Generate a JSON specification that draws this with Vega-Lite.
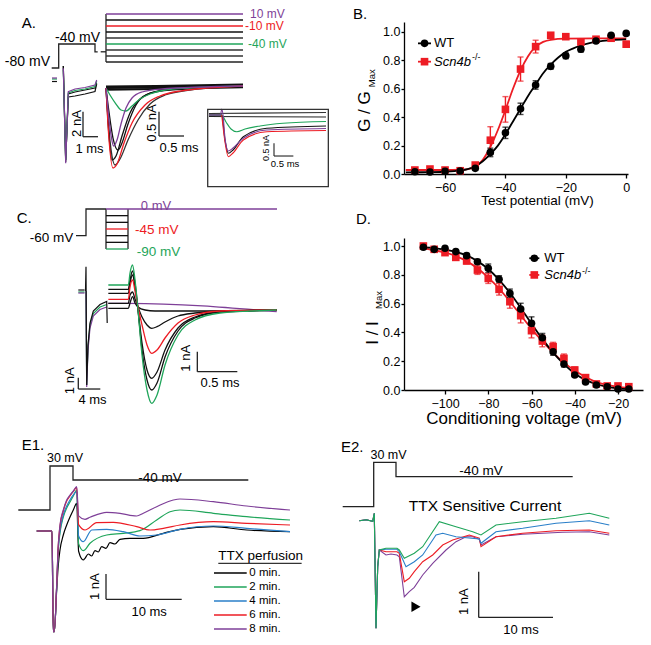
{
  "$schema": "https://vega.github.io/schema/vega-lite/v6.json",
  "padding": 0,
  "background": "white",
  "config": {
    "font": "Liberation Sans",
    "view": {"stroke": null},
    "axis": {"grid": false, "domainColor": "#000", "tickColor": "#000", "labelColor": "#000", "titleColor": "#000", "titleFontWeight": "normal", "labelFontSize": 12.5, "domainWidth": 1.3, "tickWidth": 1.3, "labelFlush": false, "labelOverlap": false},
    "axisY": {"labelOverlap": false},
    "title": {"fontWeight": "normal", "fontSize": 15, "color": "#000", "anchor": "start", "frame": "group"},
    "text": {"color": "#000"}
  },
  "datasets": {
    "aProt": [
      {"seg": "hold", "k": 0, "t": -0.467, "v": -80}, {"seg": "hold", "k": 1, "t": 0, "v": -80}, {"seg": "hold", "k": 2, "t": 0, "v": -40},
      {"seg": "hold", "k": 3, "t": 2.42, "v": -40}, {"seg": "hold", "k": 4, "t": 2.42, "v": -53}, {"seg": "hold", "k": 5, "t": 2.6, "v": -53},
      {"seg": "gap", "k": 0, "t": 2.8, "v": -53}, {"seg": "gap", "k": 1, "t": 3.153, "v": -53},
      {"seg": "bar", "k": 0, "t": 3.153, "v": 10}, {"seg": "bar", "k": 1, "t": 3.153, "v": -70}
    ],
    "aTest": [
      {"step": -70, "t": 3.153, "v": -70}, {"step": -70, "t": 12.287, "v": -70},
      {"step": -60, "t": 3.153, "v": -60}, {"step": -60, "t": 12.287, "v": -60},
      {"step": -50, "t": 3.153, "v": -50}, {"step": -50, "t": 12.287, "v": -50},
      {"step": -30, "t": 3.153, "v": -30}, {"step": -30, "t": 12.287, "v": -30},
      {"step": -20, "t": 3.153, "v": -20}, {"step": -20, "t": 12.287, "v": -20},
      {"step": 0, "t": 3.153, "v": 0}, {"step": 0, "t": 12.287, "v": 0},
      {"step": -40, "t": 3.153, "v": -40}, {"step": -40, "t": 12.287, "v": -40},
      {"step": -10, "t": 3.153, "v": -10}, {"step": -10, "t": 12.287, "v": -10},
      {"step": 10, "t": 3.153, "v": 10}, {"step": 10, "t": 12.287, "v": 10}
    ],
    "aLeft": [
      {"step": 0, "seg": "pre", "t": -0.447, "i": -0.12}, {"step": 0, "seg": "pre", "t": -0.113, "i": -0.12},
      {"step": -40, "seg": "pre", "t": -0.447, "i": 0.08}, {"step": -40, "seg": "pre", "t": -0.113, "i": 0.08},
      {"step": 10, "seg": "pre", "t": -0.447, "i": 0.16}, {"step": 10, "seg": "pre", "t": -0.113, "i": 0.16},
      {"step": -20, "seg": "main", "t": 0.307, "i": 1.12}, {"step": -20, "seg": "main", "t": 0.467, "i": -6.4}, {"step": -20, "seg": "main", "t": 0.64, "i": -1.36}, {"step": -20, "seg": "main", "t": 1.087, "i": -1.28}, {"step": -20, "seg": "main", "t": 1.753, "i": -1.12}, {"step": -20, "seg": "main", "t": 2.42, "i": -0.92}, {"step": -20, "seg": "main", "t": 2.533, "i": -0.32},
      {"step": 0, "seg": "main", "t": 0.307, "i": 1.12}, {"step": 0, "seg": "main", "t": 0.467, "i": -6.56}, {"step": 0, "seg": "main", "t": 0.64, "i": -1.12}, {"step": 0, "seg": "main", "t": 1.087, "i": -0.96}, {"step": 0, "seg": "main", "t": 1.753, "i": -0.8}, {"step": 0, "seg": "main", "t": 2.42, "i": -0.64}, {"step": 0, "seg": "main", "t": 2.533, "i": -0.24},
      {"step": -40, "seg": "main", "t": 0.307, "i": 0.8}, {"step": -40, "seg": "main", "t": 0.467, "i": -6.4}, {"step": -40, "seg": "main", "t": 0.64, "i": -1.04}, {"step": -40, "seg": "main", "t": 1.087, "i": -0.84}, {"step": -40, "seg": "main", "t": 1.753, "i": -0.72}, {"step": -40, "seg": "main", "t": 2.42, "i": -0.52}, {"step": -40, "seg": "main", "t": 2.533, "i": -0.08},
      {"step": 10, "seg": "main", "t": 0.307, "i": 0.936}, {"step": 10, "seg": "main", "t": 0.467, "i": -6.664}, {"step": 10, "seg": "main", "t": 0.64, "i": -0.936}, {"step": 10, "seg": "main", "t": 1.087, "i": -0.72}, {"step": 10, "seg": "main", "t": 1.753, "i": -0.6}, {"step": 10, "seg": "main", "t": 2.42, "i": -0.4}, {"step": 10, "seg": "main", "t": 2.533, "i": 0}
    ],
    "aBase": [
      {"step": -50, "t": 0, "i": 0.03}, {"step": -50, "t": 1, "i": 0.04}, {"step": -50, "t": 2.74, "i": 0.07},
      {"step": -60, "t": 0, "i": 0}, {"step": -60, "t": 1, "i": 0.015}, {"step": -60, "t": 2.74, "i": 0.045},
      {"step": -70, "t": 0, "i": -0.035}, {"step": -70, "t": 1, "i": -0.02}, {"step": -70, "t": 2.74, "i": 0.02}
    ],
    "aRight": [
      {"step": -30, "t": 0, "i": 0}, {"step": -30, "t": 0.04, "i": -0.616}, {"step": -30, "t": 0.12, "i": -1.396}, {"step": -30, "t": 0.18, "i": -1.581}, {"step": -30, "t": 0.28, "i": -1.458}, {"step": -30, "t": 0.44, "i": -1.068}, {"step": -30, "t": 0.64, "i": -0.657}, {"step": -30, "t": 0.88, "i": -0.329}, {"step": -30, "t": 1.18, "i": -0.144}, {"step": -30, "t": 1.68, "i": -0.041}, {"step": -30, "t": 2.74, "i": 0.041},
      {"step": -20, "t": 0, "i": 0}, {"step": -20, "t": 0.04, "i": -0.698}, {"step": -20, "t": 0.12, "i": -1.478}, {"step": -20, "t": 0.2, "i": -1.396}, {"step": -20, "t": 0.32, "i": -0.986}, {"step": -20, "t": 0.48, "i": -0.513}, {"step": -20, "t": 0.68, "i": -0.226}, {"step": -20, "t": 0.98, "i": -0.082}, {"step": -20, "t": 1.58, "i": -0.021}, {"step": -20, "t": 2.74, "i": 0.041},
      {"step": 0, "t": 0, "i": 0}, {"step": 0, "t": 0.06, "i": -0.493}, {"step": 0, "t": 0.14, "i": -1.027}, {"step": 0, "t": 0.24, "i": -1.273}, {"step": 0, "t": 0.32, "i": -1.129}, {"step": 0, "t": 0.44, "i": -0.739}, {"step": 0, "t": 0.6, "i": -0.349}, {"step": 0, "t": 0.8, "i": -0.144}, {"step": 0, "t": 1.18, "i": -0.041}, {"step": 0, "t": 2.74, "i": 0.041},
      {"step": -40, "t": 0, "i": 0}, {"step": -40, "t": 0.08, "i": -0.144}, {"step": -40, "t": 0.2, "i": -0.329}, {"step": -40, "t": 0.3, "i": -0.452}, {"step": -40, "t": 0.4, "i": -0.472}, {"step": -40, "t": 0.52, "i": -0.37}, {"step": -40, "t": 0.68, "i": -0.226}, {"step": -40, "t": 0.88, "i": -0.123}, {"step": -40, "t": 1.18, "i": -0.041}, {"step": -40, "t": 1.68, "i": 0}, {"step": -40, "t": 2.74, "i": 0.041},
      {"step": -10, "t": 0, "i": 0}, {"step": -10, "t": 0.04, "i": -0.76}, {"step": -10, "t": 0.14, "i": -1.643}, {"step": -10, "t": 0.22, "i": -1.561}, {"step": -10, "t": 0.36, "i": -1.129}, {"step": -10, "t": 0.52, "i": -0.719}, {"step": -10, "t": 0.78, "i": -0.349}, {"step": -10, "t": 1.08, "i": -0.164}, {"step": -10, "t": 1.48, "i": -0.062}, {"step": -10, "t": 2.74, "i": 0.041},
      {"step": 10, "t": 0, "i": 0}, {"step": 10, "t": 0.04, "i": -0.452}, {"step": 10, "t": 0.1, "i": -0.965}, {"step": 10, "t": 0.15, "i": -1.191}, {"step": 10, "t": 0.22, "i": -1.068}, {"step": 10, "t": 0.3, "i": -0.739}, {"step": 10, "t": 0.4, "i": -0.411}, {"step": 10, "t": 0.52, "i": -0.205}, {"step": 10, "t": 0.72, "i": -0.082}, {"step": 10, "t": 1.08, "i": -0.021}, {"step": 10, "t": 2.74, "i": 0.041}
    ],
    "aInset": [
      {"step": -60, "t": -0.328, "i": 0.059}, {"step": -60, "t": 2.695, "i": 0.099},
      {"step": -70, "t": -0.328, "i": -0.059}, {"step": -70, "t": 2.695, "i": -0.079},
      {"step": -40, "t": -0.328, "i": 0}, {"step": -40, "t": 0, "i": 0}, {"step": -40, "t": 0.111, "i": -0.277}, {"step": -40, "t": 0.24, "i": -0.553}, {"step": -40, "t": 0.388, "i": -0.66}, {"step": -40, "t": 0.602, "i": -0.553}, {"step": -40, "t": 0.99, "i": -0.435}, {"step": -40, "t": 1.584, "i": -0.328}, {"step": -40, "t": 2.695, "i": -0.257},
      {"step": 0, "t": -0.328, "i": 0}, {"step": 0, "t": 0, "i": 0}, {"step": 0, "t": 0.085, "i": -0.988}, {"step": 0, "t": 0.171, "i": -1.514}, {"step": 0, "t": 0.292, "i": -1.383}, {"step": 0, "t": 0.558, "i": -0.858}, {"step": 0, "t": 1.163, "i": -0.526}, {"step": 0, "t": 2.695, "i": -0.435},
      {"step": -10, "t": 0, "i": 0}, {"step": -10, "t": 0.085, "i": -1.067}, {"step": -10, "t": 0.171, "i": -1.648}, {"step": -10, "t": 0.292, "i": -1.502}, {"step": -10, "t": 0.558, "i": -0.988}, {"step": -10, "t": 1.163, "i": -0.66}, {"step": -10, "t": 2.695, "i": -0.613},
      {"step": 10, "t": -0.328, "i": 0}, {"step": 10, "t": -0.031, "i": 0}, {"step": 10, "t": 0, "i": 0.237}, {"step": 10, "t": 0.034, "i": 0}, {"step": 10, "t": 0.085, "i": -0.909}, {"step": 10, "t": 0.171, "i": -1.423}, {"step": 10, "t": 0.292, "i": -1.304}, {"step": 10, "t": 0.558, "i": -0.921}, {"step": 10, "t": 1.163, "i": -0.593}, {"step": 10, "t": 2.695, "i": -0.534}
    ],
    "bPts": [
      {"geno": "Scn4b-/-", "v": -70, "g": 0.028, "e": 0}, {"geno": "Scn4b-/-", "v": -65, "g": 0.035, "e": 0}, {"geno": "Scn4b-/-", "v": -60, "g": 0.028, "e": 0}, {"geno": "Scn4b-/-", "v": -55, "g": 0.023, "e": 0},
      {"geno": "Scn4b-/-", "v": -50, "g": 0.063, "e": 0.01}, {"geno": "Scn4b-/-", "v": -45, "g": 0.238, "e": 0.095}, {"geno": "Scn4b-/-", "v": -40, "g": 0.455, "e": 0.09}, {"geno": "Scn4b-/-", "v": -35, "g": 0.739, "e": 0.085},
      {"geno": "Scn4b-/-", "v": -30, "g": 0.897, "e": 0.045}, {"geno": "Scn4b-/-", "v": -25, "g": 0.977, "e": 0.01}, {"geno": "Scn4b-/-", "v": -20, "g": 0.967, "e": 0.01}, {"geno": "Scn4b-/-", "v": -15, "g": 0.93, "e": 0.02},
      {"geno": "Scn4b-/-", "v": -10, "g": 0.949, "e": 0.01}, {"geno": "Scn4b-/-", "v": -5, "g": 0.956, "e": 0.01}, {"geno": "Scn4b-/-", "v": 0, "g": 0.914, "e": 0.02},
      {"geno": "WT", "v": -70, "g": 0.016, "e": 0}, {"geno": "WT", "v": -65, "g": 0.014, "e": 0}, {"geno": "WT", "v": -60, "g": 0.019, "e": 0}, {"geno": "WT", "v": -55, "g": 0.021, "e": 0},
      {"geno": "WT", "v": -50, "g": 0.04, "e": 0.01}, {"geno": "WT", "v": -45, "g": 0.152, "e": 0.03}, {"geno": "WT", "v": -40, "g": 0.29, "e": 0.04}, {"geno": "WT", "v": -35, "g": 0.459, "e": 0.04},
      {"geno": "WT", "v": -30, "g": 0.627, "e": 0.03}, {"geno": "WT", "v": -25, "g": 0.758, "e": 0.02}, {"geno": "WT", "v": -20, "g": 0.832, "e": 0.02}, {"geno": "WT", "v": -15, "g": 0.879, "e": 0.02},
      {"geno": "WT", "v": -10, "g": 0.937, "e": 0.01}, {"geno": "WT", "v": -5, "g": 0.977, "e": 0.01}, {"geno": "WT", "v": 0, "g": 0.99, "e": 0.01}
    ],
    "bFit": [
      {"geno": "Scn4b-/-", "v": -73, "g": 0.028}, {"geno": "Scn4b-/-", "v": -60, "g": 0.028}, {"geno": "Scn4b-/-", "v": -55, "g": 0.03}, {"geno": "Scn4b-/-", "v": -52.5, "g": 0.035}, {"geno": "Scn4b-/-", "v": -50, "g": 0.05}, {"geno": "Scn4b-/-", "v": -47.5, "g": 0.1}, {"geno": "Scn4b-/-", "v": -45, "g": 0.19}, {"geno": "Scn4b-/-", "v": -42.5, "g": 0.31}, {"geno": "Scn4b-/-", "v": -40, "g": 0.45}, {"geno": "Scn4b-/-", "v": -37.5, "g": 0.6}, {"geno": "Scn4b-/-", "v": -35, "g": 0.73}, {"geno": "Scn4b-/-", "v": -32.5, "g": 0.83}, {"geno": "Scn4b-/-", "v": -30, "g": 0.895}, {"geno": "Scn4b-/-", "v": -27.5, "g": 0.93}, {"geno": "Scn4b-/-", "v": -25, "g": 0.945}, {"geno": "Scn4b-/-", "v": -20, "g": 0.953}, {"geno": "Scn4b-/-", "v": -10, "g": 0.955}, {"geno": "Scn4b-/-", "v": 0, "g": 0.955},
      {"geno": "WT", "v": -73, "g": 0.012}, {"geno": "WT", "v": -65, "g": 0.013}, {"geno": "WT", "v": -60, "g": 0.016}, {"geno": "WT", "v": -55, "g": 0.025}, {"geno": "WT", "v": -52.5, "g": 0.035}, {"geno": "WT", "v": -50, "g": 0.055}, {"geno": "WT", "v": -47.5, "g": 0.09}, {"geno": "WT", "v": -45, "g": 0.14}, {"geno": "WT", "v": -42.5, "g": 0.2}, {"geno": "WT", "v": -40, "g": 0.28}, {"geno": "WT", "v": -37.5, "g": 0.37}, {"geno": "WT", "v": -35, "g": 0.46}, {"geno": "WT", "v": -32.5, "g": 0.55}, {"geno": "WT", "v": -30, "g": 0.63}, {"geno": "WT", "v": -27.5, "g": 0.71}, {"geno": "WT", "v": -25, "g": 0.77}, {"geno": "WT", "v": -22.5, "g": 0.82}, {"geno": "WT", "v": -20, "g": 0.86}, {"geno": "WT", "v": -17.5, "g": 0.885}, {"geno": "WT", "v": -15, "g": 0.905}, {"geno": "WT", "v": -10, "g": 0.93}, {"geno": "WT", "v": -5, "g": 0.943}, {"geno": "WT", "v": 0, "g": 0.948}
    ],
    "dPts": [
      {"geno": "Scn4b-/-", "v": -110, "g": 1.0, "e": 0.01}, {"geno": "Scn4b-/-", "v": -105, "g": 0.977, "e": 0.01}, {"geno": "Scn4b-/-", "v": -100, "g": 0.954, "e": 0.01}, {"geno": "Scn4b-/-", "v": -95, "g": 0.921, "e": 0.02}, {"geno": "Scn4b-/-", "v": -90, "g": 0.896, "e": 0.02},
      {"geno": "Scn4b-/-", "v": -85, "g": 0.833, "e": 0.03}, {"geno": "Scn4b-/-", "v": -80, "g": 0.775, "e": 0.035}, {"geno": "Scn4b-/-", "v": -75, "g": 0.699, "e": 0.04}, {"geno": "Scn4b-/-", "v": -70, "g": 0.613, "e": 0.045}, {"geno": "Scn4b-/-", "v": -65, "g": 0.516, "e": 0.05},
      {"geno": "Scn4b-/-", "v": -60, "g": 0.412, "e": 0.05}, {"geno": "Scn4b-/-", "v": -55, "g": 0.34, "e": 0.04}, {"geno": "Scn4b-/-", "v": -50, "g": 0.301, "e": 0.03}, {"geno": "Scn4b-/-", "v": -45, "g": 0.22, "e": 0.03}, {"geno": "Scn4b-/-", "v": -40, "g": 0.139, "e": 0.02},
      {"geno": "Scn4b-/-", "v": -35, "g": 0.086, "e": 0.01}, {"geno": "Scn4b-/-", "v": -30, "g": 0.042, "e": 0.01}, {"geno": "Scn4b-/-", "v": -25, "g": 0.028, "e": 0.01}, {"geno": "Scn4b-/-", "v": -20, "g": 0.028, "e": 0.01}, {"geno": "Scn4b-/-", "v": -15, "g": 0.023, "e": 0.01},
      {"geno": "WT", "v": -110, "g": 0.991, "e": 0.01}, {"geno": "WT", "v": -105, "g": 0.977, "e": 0.01}, {"geno": "WT", "v": -100, "g": 0.984, "e": 0.01}, {"geno": "WT", "v": -95, "g": 0.961, "e": 0.01}, {"geno": "WT", "v": -90, "g": 0.933, "e": 0.015},
      {"geno": "WT", "v": -85, "g": 0.891, "e": 0.015}, {"geno": "WT", "v": -80, "g": 0.845, "e": 0.03}, {"geno": "WT", "v": -75, "g": 0.769, "e": 0.025}, {"geno": "WT", "v": -70, "g": 0.671, "e": 0.03}, {"geno": "WT", "v": -65, "g": 0.5625, "e": 0.04},
      {"geno": "WT", "v": -60, "g": 0.463, "e": 0.045}, {"geno": "WT", "v": -55, "g": 0.363, "e": 0.03}, {"geno": "WT", "v": -50, "g": 0.266, "e": 0.025}, {"geno": "WT", "v": -45, "g": 0.18, "e": 0.02}, {"geno": "WT", "v": -40, "g": 0.104, "e": 0.01},
      {"geno": "WT", "v": -35, "g": 0.056, "e": 0.01}, {"geno": "WT", "v": -30, "g": 0.035, "e": 0.01}, {"geno": "WT", "v": -25, "g": 0.023, "e": 0.005}, {"geno": "WT", "v": -20, "g": 0.007, "e": 0.005}, {"geno": "WT", "v": -15, "g": 0.007, "e": 0.005}
    ],
    "dFit": [
      {"geno": "Scn4b-/-", "v": -110, "g": 0.985}, {"geno": "Scn4b-/-", "v": -105, "g": 0.97}, {"geno": "Scn4b-/-", "v": -100, "g": 0.955}, {"geno": "Scn4b-/-", "v": -95, "g": 0.93}, {"geno": "Scn4b-/-", "v": -90, "g": 0.895}, {"geno": "Scn4b-/-", "v": -85, "g": 0.845}, {"geno": "Scn4b-/-", "v": -80, "g": 0.78}, {"geno": "Scn4b-/-", "v": -75, "g": 0.705}, {"geno": "Scn4b-/-", "v": -70, "g": 0.615}, {"geno": "Scn4b-/-", "v": -65, "g": 0.52}, {"geno": "Scn4b-/-", "v": -60, "g": 0.425}, {"geno": "Scn4b-/-", "v": -55, "g": 0.34}, {"geno": "Scn4b-/-", "v": -50, "g": 0.26}, {"geno": "Scn4b-/-", "v": -45, "g": 0.19}, {"geno": "Scn4b-/-", "v": -40, "g": 0.135}, {"geno": "Scn4b-/-", "v": -35, "g": 0.09}, {"geno": "Scn4b-/-", "v": -30, "g": 0.055}, {"geno": "Scn4b-/-", "v": -25, "g": 0.035}, {"geno": "Scn4b-/-", "v": -20, "g": 0.022}, {"geno": "Scn4b-/-", "v": -15, "g": 0.015},
      {"geno": "WT", "v": -110, "g": 0.99}, {"geno": "WT", "v": -105, "g": 0.985}, {"geno": "WT", "v": -100, "g": 0.975}, {"geno": "WT", "v": -95, "g": 0.96}, {"geno": "WT", "v": -90, "g": 0.935}, {"geno": "WT", "v": -85, "g": 0.895}, {"geno": "WT", "v": -80, "g": 0.84}, {"geno": "WT", "v": -75, "g": 0.765}, {"geno": "WT", "v": -70, "g": 0.675}, {"geno": "WT", "v": -65, "g": 0.57}, {"geno": "WT", "v": -60, "g": 0.46}, {"geno": "WT", "v": -55, "g": 0.355}, {"geno": "WT", "v": -50, "g": 0.26}, {"geno": "WT", "v": -45, "g": 0.18}, {"geno": "WT", "v": -40, "g": 0.115}, {"geno": "WT", "v": -35, "g": 0.07}, {"geno": "WT", "v": -30, "g": 0.04}, {"geno": "WT", "v": -25, "g": 0.022}, {"geno": "WT", "v": -20, "g": 0.012}, {"geno": "WT", "v": -15, "g": 0.006}
    ],
    "cProt": [
      {"seg": "hold", "k": 0, "t": -1.818, "v": -60}, {"seg": "hold", "k": 1, "t": 0, "v": -60}, {"seg": "hold", "k": 2, "t": 0, "v": 0}, {"seg": "hold", "k": 3, "t": 3.636, "v": 0},
      {"seg": "boxL", "k": 0, "t": 3.636, "v": 0}, {"seg": "boxL", "k": 1, "t": 3.636, "v": -90},
      {"seg": "boxR", "k": 0, "t": 7.636, "v": 0}, {"seg": "boxR", "k": 1, "t": 7.636, "v": -90}
    ],
    "cCond": [
      {"step": -15, "t": 3.636, "v": -15}, {"step": -15, "t": 7.636, "v": -15},
      {"step": -30, "t": 3.636, "v": -30}, {"step": -30, "t": 7.636, "v": -30},
      {"step": -60, "t": 3.636, "v": -60}, {"step": -60, "t": 7.636, "v": -60},
      {"step": -75, "t": 3.636, "v": -75}, {"step": -75, "t": 7.636, "v": -75},
      {"step": -45, "t": 3.636, "v": -45}, {"step": -45, "t": 7.636, "v": -45},
      {"step": -90, "t": 3.636, "v": -90}, {"step": -90, "t": 7.636, "v": -90},
      {"step": 0, "t": 3.636, "v": 0}, {"step": 0, "t": 34.73, "v": 0}
    ],
    "cLeft": [
      {"step": -30, "seg": "pre", "t": -1.4, "i": 0.15}, {"step": -30, "seg": "pre", "t": -0.273, "i": 0.15},
      {"step": -90, "seg": "pre", "t": -1.4, "i": -0.027}, {"step": -90, "seg": "pre", "t": -0.273, "i": -0.027},
      {"step": 0, "seg": "pre", "t": -1.4, "i": -0.115}, {"step": 0, "seg": "pre", "t": -0.273, "i": -0.115},
      {"step": -90, "seg": "main", "t": 0, "i": 0.062}, {"step": -90, "seg": "main", "t": 0.127, "i": -8.257}, {"step": -90, "seg": "main", "t": 0.364, "i": -4.894}, {"step": -90, "seg": "main", "t": 0.727, "i": -2.947}, {"step": -90, "seg": "main", "t": 1.327, "i": -1.929}, {"step": -90, "seg": "main", "t": 2.545, "i": -1.354}, {"step": -90, "seg": "main", "t": 3.764, "i": -1.133},
      {"step": 0, "seg": "main", "t": 0, "i": 0.062}, {"step": 0, "seg": "main", "t": 0.127, "i": -8.434}, {"step": 0, "seg": "main", "t": 0.364, "i": -5.159}, {"step": 0, "seg": "main", "t": 0.727, "i": -3.212}, {"step": 0, "seg": "main", "t": 1.327, "i": -2.15}, {"step": 0, "seg": "main", "t": 2.545, "i": -1.575}, {"step": 0, "seg": "main", "t": 3.764, "i": -1.354},
      {"step": -30, "seg": "main", "t": -0.091, "i": 0.062}, {"step": -30, "seg": "main", "t": 0, "i": 2.212}, {"step": -30, "seg": "main", "t": 0.127, "i": -8.257}, {"step": -30, "seg": "main", "t": 0.364, "i": -4.717}, {"step": -30, "seg": "main", "t": 0.727, "i": -2.77}, {"step": -30, "seg": "main", "t": 1.327, "i": -1.708}, {"step": -30, "seg": "main", "t": 2.545, "i": -1.133}, {"step": -30, "seg": "main", "t": 3.764, "i": -0.867}, {"step": -30, "seg": "main", "t": 3.855, "i": -2.77}
    ],
    "cRight": [
      {"step": 0, "t": -0.25, "i": 0.335}, {"step": 0, "t": 0, "i": 0.335}, {"step": 0, "t": 1.855, "i": -0.085},
      {"step": -15, "t": -0.25, "i": 0.085}, {"step": -15, "t": 0, "i": 0.085}, {"step": -15, "t": 0.02125, "i": 0.35}, {"step": -15, "t": 0.0525, "i": 0.665}, {"step": -15, "t": 0.08375, "i": 0.35}, {"step": -15, "t": 0.12125, "i": 0.15}, {"step": -15, "t": 0.20875, "i": 0}, {"step": -15, "t": 0.33375, "i": -0.05}, {"step": -15, "t": 0.64625, "i": -0.05}, {"step": -15, "t": 1.855, "i": 0},
      {"step": -30, "t": -0.25, "i": 0.335}, {"step": -30, "t": 0, "i": 0.335}, {"step": -30, "t": 0.02125, "i": 0.75}, {"step": -30, "t": 0.0525, "i": 0.9}, {"step": -30, "t": 0.08375, "i": 0.55}, {"step": -30, "t": 0.12125, "i": 0.15}, {"step": -30, "t": 0.17125, "i": -0.35}, {"step": -30, "t": 0.23375, "i": -0.75}, {"step": -30, "t": 0.2925, "i": -0.915}, {"step": -30, "t": 0.35875, "i": -0.835}, {"step": -30, "t": 0.45875, "i": -0.6}, {"step": -30, "t": 0.62125, "i": -0.3}, {"step": -30, "t": 0.83375, "i": -0.15}, {"step": -30, "t": 1.14625, "i": -0.05}, {"step": -30, "t": 1.855, "i": 0},
      {"step": -60, "t": -0.25, "i": 0.835}, {"step": -60, "t": 0, "i": 0.835}, {"step": -60, "t": 0.02125, "i": 1.35}, {"step": -60, "t": 0.0525, "i": 1.75}, {"step": -60, "t": 0.08375, "i": 1.15}, {"step": -60, "t": 0.12125, "i": 0}, {"step": -60, "t": 0.17125, "i": -1.65}, {"step": -60, "t": 0.23375, "i": -3.0}, {"step": -60, "t": 0.2925, "i": -3.415}, {"step": -60, "t": 0.35875, "i": -3.1}, {"step": -60, "t": 0.45875, "i": -2.0}, {"step": -60, "t": 0.62125, "i": -0.9}, {"step": -60, "t": 0.83375, "i": -0.35}, {"step": -60, "t": 1.14625, "i": -0.1}, {"step": -60, "t": 1.855, "i": 0},
      {"step": -75, "t": -0.25, "i": 1.035}, {"step": -75, "t": 0, "i": 1.035}, {"step": -75, "t": 0.02125, "i": 1.5}, {"step": -75, "t": 0.0525, "i": 1.95}, {"step": -75, "t": 0.08375, "i": 1.35}, {"step": -75, "t": 0.12125, "i": 0}, {"step": -75, "t": 0.17125, "i": -2.0}, {"step": -75, "t": 0.23375, "i": -3.5}, {"step": -75, "t": 0.2925, "i": -4.0}, {"step": -75, "t": 0.35875, "i": -3.65}, {"step": -75, "t": 0.45875, "i": -2.35}, {"step": -75, "t": 0.62125, "i": -1.05}, {"step": -75, "t": 0.83375, "i": -0.4}, {"step": -75, "t": 1.14625, "i": -0.1}, {"step": -75, "t": 1.52125, "i": -0.05}, {"step": -75, "t": 1.855, "i": 0},
      {"step": -45, "t": -0.25, "i": 0.535}, {"step": -45, "t": 0, "i": 0.535}, {"step": -45, "t": 0.02125, "i": 1.15}, {"step": -45, "t": 0.0525, "i": 1.5}, {"step": -45, "t": 0.08375, "i": 0.95}, {"step": -45, "t": 0.12125, "i": 0.15}, {"step": -45, "t": 0.17125, "i": -0.75}, {"step": -45, "t": 0.23375, "i": -1.75}, {"step": -45, "t": 0.2925, "i": -2.165}, {"step": -45, "t": 0.35875, "i": -2.0}, {"step": -45, "t": 0.45875, "i": -1.4}, {"step": -45, "t": 0.62125, "i": -0.65}, {"step": -45, "t": 0.83375, "i": -0.25}, {"step": -45, "t": 1.14625, "i": -0.05}, {"step": -45, "t": 1.855, "i": 0},
      {"step": -90, "t": -0.25, "i": 1.25}, {"step": -90, "t": 0, "i": 1.25}, {"step": -90, "t": 0.02125, "i": 1.85}, {"step": -90, "t": 0.0525, "i": 2.25}, {"step": -90, "t": 0.08375, "i": 1.5}, {"step": -90, "t": 0.12125, "i": 0}, {"step": -90, "t": 0.17125, "i": -2.25}, {"step": -90, "t": 0.23375, "i": -4.0}, {"step": -90, "t": 0.2925, "i": -4.665}, {"step": -90, "t": 0.35875, "i": -4.25}, {"step": -90, "t": 0.45875, "i": -2.75}, {"step": -90, "t": 0.62125, "i": -1.25}, {"step": -90, "t": 0.83375, "i": -0.5}, {"step": -90, "t": 1.14625, "i": -0.15}, {"step": -90, "t": 1.52125, "i": -0.05}, {"step": -90, "t": 1.855, "i": 0}
    ],
    "e1Prot": [
      {"k": 0, "t": -4.188, "v": -80}, {"k": 1, "t": 0, "v": -80}, {"k": 2, "t": 0, "v": 30}, {"k": 3, "t": 3.038, "v": 30}, {"k": 4, "t": 3.038, "v": -40}, {"k": 5, "t": 26.196, "v": -40}
    ],
    "e2Prot": [
      {"k": 0, "t": -4.172, "v": -80}, {"k": 1, "t": 0, "v": -80}, {"k": 2, "t": 0, "v": 30}, {"k": 3, "t": 3.001, "v": 30}, {"k": 4, "t": 3.001, "v": -40}, {"k": 5, "t": 26.783, "v": -40}
    ],
    "e1": [
      {"m": "0 min.", "t": -1.757, "i": 0}, {"m": "0 min.", "t": 0.264, "i": 0}, {"m": "0 min.", "t": 0.436, "i": -3.98}, {"m": "0 min.", "t": 0.568, "i": -3.98}, {"m": "0 min.", "t": 0.885, "i": -2.332}, {"m": "0 min.", "t": 1.096, "i": -1.344}, {"m": "0 min.", "t": 1.321, "i": -0.751}, {"m": "0 min.", "t": 1.757, "i": -0.158}, {"m": "0 min.", "t": 2.206, "i": 0.237}, {"m": "0 min.", "t": 2.642, "i": 0.553}, {"m": "0 min.", "t": 3.078, "i": 0.83}, {"m": "0 min.", "t": 3.527, "i": 1.095}, {"m": "0 min.", "t": 3.78, "i": -0.8}, {"m": "0 min.", "t": 4.399, "i": -1.146}, {"m": "0 min.", "t": 4.624, "i": -1.079}, {"m": "0 min.", "t": 5.059, "i": -0.909}, {"m": "0 min.", "t": 5.509, "i": -0.988}, {"m": "0 min.", "t": 5.945, "i": -0.779}, {"m": "0 min.", "t": 6.38, "i": -0.83}, {"m": "0 min.", "t": 6.83, "i": -0.621}, {"m": "0 min.", "t": 7.398, "i": -0.684}, {"m": "0 min.", "t": 7.926, "i": -0.462}, {"m": "0 min.", "t": 8.587, "i": -0.514}, {"m": "0 min.", "t": 9.247, "i": -0.328}, {"m": "0 min.", "t": 10.568, "i": -0.289}, {"m": "0 min.", "t": 12.325, "i": -0.289}, {"m": "0 min.", "t": 14.967, "i": -0.091}, {"m": "0 min.", "t": 17.173, "i": 0.067}, {"m": "0 min.", "t": 21.572, "i": 0.17}, {"m": "0 min.", "t": 25.984, "i": 0.04}, {"m": "0 min.", "t": 31.704, "i": -0.028},
      {"m": "2 min.", "t": -1.757, "i": 0}, {"m": "2 min.", "t": 0.264, "i": 0}, {"m": "2 min.", "t": 0.436, "i": -3.98}, {"m": "2 min.", "t": 0.568, "i": -3.98}, {"m": "2 min.", "t": 0.885, "i": -2.2}, {"m": "2 min.", "t": 1.096, "i": -0.751}, {"m": "2 min.", "t": 1.321, "i": -0.079}, {"m": "2 min.", "t": 1.757, "i": 0.553}, {"m": "2 min.", "t": 2.206, "i": 0.909}, {"m": "2 min.", "t": 2.642, "i": 1.146}, {"m": "2 min.", "t": 3.078, "i": 1.383}, {"m": "2 min.", "t": 3.527, "i": 1.621}, {"m": "2 min.", "t": 3.78, "i": -0.5}, {"m": "2 min.", "t": 4.399, "i": -0.779}, {"m": "2 min.", "t": 5.284, "i": -0.486}, {"m": "2 min.", "t": 7.49, "i": -0.158}, {"m": "2 min.", "t": 9.683, "i": -0.091}, {"m": "2 min.", "t": 11.889, "i": 0.012}, {"m": "2 min.", "t": 14.095, "i": 0.435}, {"m": "2 min.", "t": 15.852, "i": 0.763}, {"m": "2 min.", "t": 17.173, "i": 0.83}, {"m": "2 min.", "t": 21.572, "i": 0.7}, {"m": "2 min.", "t": 25.984, "i": 0.565}, {"m": "2 min.", "t": 31.704, "i": 0.435},
      {"m": "4 min.", "t": -1.757, "i": 0}, {"m": "4 min.", "t": 0.264, "i": 0}, {"m": "4 min.", "t": 0.436, "i": -3.98}, {"m": "4 min.", "t": 0.568, "i": -3.98}, {"m": "4 min.", "t": 0.885, "i": -2.2}, {"m": "4 min.", "t": 1.096, "i": -0.672}, {"m": "4 min.", "t": 1.321, "i": 0}, {"m": "4 min.", "t": 1.757, "i": 0.632}, {"m": "4 min.", "t": 2.206, "i": 0.988}, {"m": "4 min.", "t": 2.642, "i": 1.225}, {"m": "4 min.", "t": 3.078, "i": 1.423}, {"m": "4 min.", "t": 3.527, "i": 1.553}, {"m": "4 min.", "t": 3.78, "i": -0.2}, {"m": "4 min.", "t": 4.399, "i": -0.423}, {"m": "4 min.", "t": 5.509, "i": 0.04}, {"m": "4 min.", "t": 7.49, "i": 0.067}, {"m": "4 min.", "t": 9.683, "i": -0.028}, {"m": "4 min.", "t": 11.889, "i": -0.198}, {"m": "4 min.", "t": 14.095, "i": -0.158}, {"m": "4 min.", "t": 17.173, "i": 0.067}, {"m": "4 min.", "t": 21.572, "i": 0.198}, {"m": "4 min.", "t": 25.984, "i": 0.107}, {"m": "4 min.", "t": 31.704, "i": -0.028},
      {"m": "6 min.", "t": -1.757, "i": 0}, {"m": "6 min.", "t": 0.264, "i": 0}, {"m": "6 min.", "t": 0.436, "i": -3.98}, {"m": "6 min.", "t": 0.568, "i": -3.98}, {"m": "6 min.", "t": 0.885, "i": -2.134}, {"m": "6 min.", "t": 1.096, "i": -0.553}, {"m": "6 min.", "t": 1.321, "i": 0.198}, {"m": "6 min.", "t": 1.757, "i": 0.791}, {"m": "6 min.", "t": 2.206, "i": 1.186}, {"m": "6 min.", "t": 2.642, "i": 1.383}, {"m": "6 min.", "t": 3.078, "i": 1.561}, {"m": "6 min.", "t": 3.527, "i": 1.727}, {"m": "6 min.", "t": 3.78, "i": 0.25}, {"m": "6 min.", "t": 4.624, "i": 0.04}, {"m": "6 min.", "t": 6.169, "i": 0.328}, {"m": "6 min.", "t": 8.362, "i": 0.344}, {"m": "6 min.", "t": 11.453, "i": 0.17}, {"m": "6 min.", "t": 13.21, "i": 0.04}, {"m": "6 min.", "t": 14.967, "i": 0.107}, {"m": "6 min.", "t": 17.173, "i": 0.237}, {"m": "6 min.", "t": 21.572, "i": 0.368}, {"m": "6 min.", "t": 25.984, "i": 0.304}, {"m": "6 min.", "t": 31.704, "i": 0.237},
      {"m": "8 min.", "t": -1.757, "i": 0}, {"m": "8 min.", "t": 0.264, "i": 0}, {"m": "8 min.", "t": 0.436, "i": -3.98}, {"m": "8 min.", "t": 0.568, "i": -3.98}, {"m": "8 min.", "t": 0.885, "i": -2.134}, {"m": "8 min.", "t": 1.096, "i": -0.553}, {"m": "8 min.", "t": 1.321, "i": 0.237}, {"m": "8 min.", "t": 1.757, "i": 0.83}, {"m": "8 min.", "t": 2.206, "i": 1.225}, {"m": "8 min.", "t": 2.642, "i": 1.423}, {"m": "8 min.", "t": 3.078, "i": 1.581}, {"m": "8 min.", "t": 3.527, "i": 1.751}, {"m": "8 min.", "t": 3.78, "i": 0.6}, {"m": "8 min.", "t": 4.624, "i": 0.462}, {"m": "8 min.", "t": 5.284, "i": 0.542}, {"m": "8 min.", "t": 7.49, "i": 0.739}, {"m": "8 min.", "t": 9.247, "i": 0.7}, {"m": "8 min.", "t": 11.453, "i": 0.593}, {"m": "8 min.", "t": 12.325, "i": 0.7}, {"m": "8 min.", "t": 14.095, "i": 0.96}, {"m": "8 min.", "t": 16.288, "i": 1.225}, {"m": "8 min.", "t": 17.173, "i": 1.265}, {"m": "8 min.", "t": 21.572, "i": 1.158}, {"m": "8 min.", "t": 25.984, "i": 0.988}, {"m": "8 min.", "t": 31.704, "i": 0.83}
    ],
    "e2": [
      {"m": "8 min.", "t": -1.938, "i": 0}, {"m": "8 min.", "t": -1.0, "i": 0.02}, {"m": "8 min.", "t": -0.135, "i": -0.015}, {"m": "8 min.", "t": 0.081, "i": 0.162}, {"m": "8 min.", "t": 0.31, "i": -2.3545}, {"m": "8 min.", "t": 0.538, "i": -1.0066}, {"m": "8 min.", "t": 0.754, "i": -0.6411},
      {"m": "8 min.", "t": 1.655, "i": -0.7505}, {"m": "8 min.", "t": 2.328, "i": -0.73}, {"m": "8 min.", "t": 3.136, "i": -0.7505}, {"m": "8 min.", "t": 3.445, "i": -0.7877}, {"m": "8 min.", "t": 4.118, "i": -1.663}, {"m": "8 min.", "t": 4.791, "i": -1.5536}, {"m": "8 min.", "t": 5.464, "i": -1.4573}, {"m": "8 min.", "t": 6.595, "i": -1.1882}, {"m": "8 min.", "t": 7.941, "i": -0.9322}, {"m": "8 min.", "t": 9.731, "i": -0.6411}, {"m": "8 min.", "t": 11.077, "i": -0.4595}, {"m": "8 min.", "t": 12.423, "i": -0.3501}, {"m": "8 min.", "t": 13.324, "i": -0.3501}, {"m": "8 min.", "t": 14.213, "i": -0.407}, {"m": "8 min.", "t": 14.441, "i": -0.5317}, {"m": "8 min.", "t": 16.46, "i": -0.3501}, {"m": "8 min.", "t": 20.054, "i": -0.2976}, {"m": "8 min.", "t": 22.746, "i": -0.2757}, {"m": "8 min.", "t": 25.437, "i": -0.2538}, {"m": "8 min.", "t": 29.018, "i": -0.2407}, {"m": "8 min.", "t": 31.709, "i": -0.3129},
      {"m": "6 min.", "t": -1.938, "i": 0}, {"m": "6 min.", "t": -1.0, "i": 0.02}, {"m": "6 min.", "t": -0.135, "i": -0.015}, {"m": "6 min.", "t": 0.081, "i": 0.162}, {"m": "6 min.", "t": 0.31, "i": -2.3545}, {"m": "6 min.", "t": 0.538, "i": -1.0066}, {"m": "6 min.", "t": 0.754, "i": -0.6411},
      {"m": "6 min.", "t": 1.655, "i": -0.6783}, {"m": "6 min.", "t": 3.136, "i": -0.6783}, {"m": "6 min.", "t": 3.445, "i": -0.7133}, {"m": "6 min.", "t": 4.118, "i": -1.3348}, {"m": "6 min.", "t": 4.791, "i": -1.2604}, {"m": "6 min.", "t": 5.464, "i": -1.116}, {"m": "6 min.", "t": 6.595, "i": -0.8972}, {"m": "6 min.", "t": 7.941, "i": -0.7505}, {"m": "6 min.", "t": 9.287, "i": -0.5317}, {"m": "6 min.", "t": 10.633, "i": -0.4223}, {"m": "6 min.", "t": 12.867, "i": -0.3129}, {"m": "6 min.", "t": 14.213, "i": -0.38}, {"m": "6 min.", "t": 14.441, "i": -0.5689}, {"m": "6 min.", "t": 16.46, "i": -0.3501}, {"m": "6 min.", "t": 20.054, "i": -0.2757}, {"m": "6 min.", "t": 24.536, "i": -0.2188}, {"m": "6 min.", "t": 29.018, "i": -0.2035}, {"m": "6 min.", "t": 31.709, "i": -0.2757},
      {"m": "4 min.", "t": -1.938, "i": 0}, {"m": "4 min.", "t": -1.0, "i": 0.02}, {"m": "4 min.", "t": -0.135, "i": -0.015}, {"m": "4 min.", "t": 0.081, "i": 0.162}, {"m": "4 min.", "t": 0.31, "i": -2.3545}, {"m": "4 min.", "t": 0.538, "i": -1.0066}, {"m": "4 min.", "t": 0.754, "i": -0.6411},
      {"m": "4 min.", "t": 1.655, "i": -0.6258}, {"m": "4 min.", "t": 3.136, "i": -0.6258}, {"m": "4 min.", "t": 3.445, "i": -0.6783}, {"m": "4 min.", "t": 4.347, "i": -1.0066}, {"m": "4 min.", "t": 5.464, "i": -0.8972}, {"m": "4 min.", "t": 6.595, "i": -0.7505}, {"m": "4 min.", "t": 8.385, "i": -0.3129}, {"m": "4 min.", "t": 9.287, "i": -0.2757}, {"m": "4 min.", "t": 11.077, "i": -0.3501}, {"m": "4 min.", "t": 14.213, "i": -0.4}, {"m": "4 min.", "t": 14.441, "i": -0.4945}, {"m": "4 min.", "t": 16.46, "i": -0.2407}, {"m": "4 min.", "t": 20.054, "i": -0.1663}, {"m": "4 min.", "t": 24.536, "i": -0.0569}, {"m": "4 min.", "t": 29.018, "i": 0}, {"m": "4 min.", "t": 31.709, "i": -0.0941},
      {"m": "2 min.", "t": -1.938, "i": 0}, {"m": "2 min.", "t": -1.0, "i": 0.02}, {"m": "2 min.", "t": -0.135, "i": -0.015}, {"m": "2 min.", "t": 0.081, "i": 0.162}, {"m": "2 min.", "t": 0.31, "i": -2.3545}, {"m": "2 min.", "t": 0.538, "i": -1.0066}, {"m": "2 min.", "t": 0.754, "i": -0.6411},
      {"m": "2 min.", "t": 1.655, "i": -0.6039}, {"m": "2 min.", "t": 3.136, "i": -0.6039}, {"m": "2 min.", "t": 3.445, "i": -0.6411}, {"m": "2 min.", "t": 4.118, "i": -0.8228}, {"m": "2 min.", "t": 5.464, "i": -0.7133}, {"m": "2 min.", "t": 6.595, "i": -0.5689}, {"m": "2 min.", "t": 8.829, "i": -0.0219}, {"m": "2 min.", "t": 11.077, "i": -0.1313}, {"m": "2 min.", "t": 13.324, "i": -0.2407}, {"m": "2 min.", "t": 14.441, "i": -0.3129}, {"m": "2 min.", "t": 16.46, "i": -0.0941}, {"m": "2 min.", "t": 20.054, "i": -0.0219}, {"m": "2 min.", "t": 24.536, "i": 0.0525}, {"m": "2 min.", "t": 29.018, "i": 0.162}, {"m": "2 min.", "t": 31.709, "i": 0.0525}
    ]
  },
  "spacing": 10,
  "resolve": {"scale": {"color": "independent", "shape": "independent"}},
  "hconcat": [
    {
      "spacing": 0,
      "bounds": "flush",
      "resolve": {"scale": {"color": "independent", "shape": "independent"}},
      "vconcat": [
        {
          "width": 330, "height": 195,
          "resolve": {"scale": {"x": "independent", "y": "independent"}},
          "layer": [
            {
              "layer": [
                {"data": {"name": "aProt"}, "mark": {"type": "line", "color": "#222222", "strokeWidth": 1.3}, "encoding": {"x": {"field": "t", "type": "quantitative", "scale": {"domain": [-3.913, 18.087], "nice": false, "zero": false}, "axis": null}, "y": {"field": "v", "type": "quantitative", "scale": {"domain": [-291.67, 33.33], "nice": false, "zero": false}, "axis": null}, "detail": {"field": "seg"}, "order": {"field": "k"}}},
                {"data": {"name": "aTest"}, "mark": {"type": "line", "strokeWidth": 1.3}, "encoding": {"x": {"field": "t", "type": "quantitative", "scale": {"domain": [-3.913, 18.087], "nice": false, "zero": false}, "axis": null}, "y": {"field": "v", "type": "quantitative", "scale": {"domain": [-291.67, 33.33], "nice": false, "zero": false}, "axis": null}, "color": {"field": "step", "type": "nominal", "scale": {"domain": [10, 0, -10, -20, -30, -40, -50, -60, -70], "range": ["#7E3F98", "#111111", "#ED1C24", "#111111", "#333333", "#1FA55A", "#333333", "#333333", "#222222"]}, "legend": null}}},
                {"data": {"values": [{}]}, "mark": {"type": "text", "text": "A.", "align": "left", "baseline": "middle", "fontSize": 15}, "encoding": {"x": {"datum": -2.467, "type": "quantitative", "axis": null}, "y": {"datum": -4.2, "type": "quantitative", "axis": null}}},
                {"data": {"values": [{}]}, "mark": {"type": "text", "text": "-80 mV", "align": "right", "baseline": "middle", "fontSize": 14}, "encoding": {"x": {"datum": -0.58, "type": "quantitative", "axis": null}, "y": {"datum": -70, "type": "quantitative", "axis": null}}},
                {"data": {"values": [{}]}, "mark": {"type": "text", "text": "-40 mV", "align": "left", "baseline": "middle", "fontSize": 14}, "encoding": {"x": {"datum": -0.247, "type": "quantitative", "axis": null}, "y": {"datum": -29.2, "type": "quantitative", "axis": null}}},
                {"data": {"values": [{}]}, "mark": {"type": "text", "text": "10 mV", "align": "left", "baseline": "middle", "fontSize": 12, "color": "#7E3F98"}, "encoding": {"x": {"datum": 12.753, "type": "quantitative", "axis": null}, "y": {"datum": 10.83, "type": "quantitative", "axis": null}}},
                {"data": {"values": [{}]}, "mark": {"type": "text", "text": "-10 mV", "align": "left", "baseline": "middle", "fontSize": 12, "color": "#ED1C24"}, "encoding": {"x": {"datum": 12.42, "type": "quantitative", "axis": null}, "y": {"datum": -10, "type": "quantitative", "axis": null}}},
                {"data": {"values": [{}]}, "mark": {"type": "text", "text": "-40 mV", "align": "left", "baseline": "middle", "fontSize": 12, "color": "#1FA55A"}, "encoding": {"x": {"datum": 12.62, "type": "quantitative", "axis": null}, "y": {"datum": -40.3, "type": "quantitative", "axis": null}}}
              ]
            },
            {
              "layer": [
                {"data": {"name": "aLeft"}, "mark": {"type": "line", "strokeWidth": 1.2}, "encoding": {"x": {"field": "t", "type": "quantitative", "scale": {"domain": [-3.913, 18.087], "nice": false, "zero": false}, "axis": null}, "y": {"field": "i", "type": "quantitative", "scale": {"domain": [-9.2, 6.4], "nice": false, "zero": false}, "axis": null}, "detail": {"field": "seg"}, "color": {"field": "step", "type": "nominal", "scale": {"domain": [10, 0, -10, -20, -30, -40, -50, -60, -70], "range": ["#7E3F98", "#111111", "#ED1C24", "#111111", "#333333", "#1FA55A", "#333333", "#333333", "#222222"]}, "legend": null}}},
                {"data": {"values": [{}]}, "mark": {"type": "rule", "color": "#222222", "strokeWidth": 1.3}, "encoding": {"x": {"datum": 1.62, "type": "quantitative", "axis": null}, "y": {"datum": -2.536, "type": "quantitative", "axis": null}, "y2": {"datum": -4.536}}},
                {"data": {"values": [{}]}, "mark": {"type": "rule", "color": "#222222", "strokeWidth": 1.3}, "encoding": {"x": {"datum": 1.62, "type": "quantitative", "axis": null}, "x2": {"datum": 2.62}, "y": {"datum": -4.536, "type": "quantitative", "axis": null}}},
                {"data": {"values": [{}]}, "mark": {"type": "text", "text": "2 nA", "angle": 270, "align": "center", "baseline": "middle", "fontSize": 13}, "encoding": {"x": {"datum": 1.187, "type": "quantitative", "axis": null}, "y": {"datum": -3.48, "type": "quantitative", "axis": null}}},
                {"data": {"values": [{}]}, "mark": {"type": "text", "text": "1 ms", "align": "center", "baseline": "middle", "fontSize": 13}, "encoding": {"x": {"datum": 2.053, "type": "quantitative", "axis": null}, "y": {"datum": -5.48, "type": "quantitative", "axis": null}}}
              ]
            },
            {
              "layer": [
                {"data": {"name": "aBase"}, "mark": {"type": "line", "strokeWidth": 2.2, "color": "#111111"}, "encoding": {"x": {"field": "t", "type": "quantitative", "scale": {"domain": [-2.12, 4.48], "nice": false, "zero": false}, "axis": null}, "y": {"field": "i", "type": "quantitative", "scale": {"domain": [-2.197, 1.807], "nice": false, "zero": false}, "axis": null}, "detail": {"field": "step"}}},
                {"data": {"name": "aRight"}, "mark": {"type": "line", "strokeWidth": 1.3, "interpolate": "monotone"}, "encoding": {"x": {"field": "t", "type": "quantitative", "scale": {"domain": [-2.12, 4.48], "nice": false, "zero": false}, "axis": null}, "y": {"field": "i", "type": "quantitative", "scale": {"domain": [-2.197, 1.807], "nice": false, "zero": false}, "axis": null}, "color": {"field": "step", "type": "nominal", "scale": {"domain": [10, 0, -10, -20, -30, -40, -50, -60, -70], "range": ["#7E3F98", "#111111", "#ED1C24", "#111111", "#333333", "#1FA55A", "#333333", "#333333", "#222222"]}, "legend": null}}},
                {"data": {"values": [{}]}, "mark": {"type": "rule", "color": "#222222", "strokeWidth": 1.3}, "encoding": {"x": {"datum": 1.06, "type": "quantitative", "axis": null}, "y": {"datum": -0.4856, "type": "quantitative", "axis": null}, "y2": {"datum": -0.9856}}},
                {"data": {"values": [{}]}, "mark": {"type": "rule", "color": "#222222", "strokeWidth": 1.3}, "encoding": {"x": {"datum": 1.06, "type": "quantitative", "axis": null}, "x2": {"datum": 1.56}, "y": {"datum": -0.9856, "type": "quantitative", "axis": null}}},
                {"data": {"values": [{}]}, "mark": {"type": "text", "text": "0.5 nA", "angle": 270, "align": "center", "baseline": "middle", "fontSize": 13}, "encoding": {"x": {"datum": 0.914, "type": "quantitative", "axis": null}, "y": {"datum": -0.719, "type": "quantitative", "axis": null}}},
                {"data": {"values": [{}]}, "mark": {"type": "text", "text": "0.5 ms", "align": "center", "baseline": "middle", "fontSize": 13}, "encoding": {"x": {"datum": 1.46, "type": "quantitative", "axis": null}, "y": {"datum": -1.242, "type": "quantitative", "axis": null}}}
              ]
            },
            {
              "layer": [
                {"data": {"name": "aInset"}, "mark": {"type": "line", "strokeWidth": 1.1, "interpolate": "monotone"}, "encoding": {"x": {"field": "t", "type": "quantitative", "scale": {"domain": [-5.729, 2.798], "nice": false, "zero": false}, "axis": null}, "y": {"field": "i", "type": "quantitative", "scale": {"domain": [-3.162, 4.545], "nice": false, "zero": false}, "axis": null}, "color": {"field": "step", "type": "nominal", "scale": {"domain": [10, 0, -10, -20, -30, -40, -50, -60, -70], "range": ["#7E3F98", "#111111", "#ED1C24", "#111111", "#333333", "#1FA55A", "#333333", "#333333", "#222222"]}, "legend": null}}},
                {"data": {"values": [{}]}, "mark": {"type": "rect", "fillOpacity": 0, "stroke": "#333333", "strokeWidth": 1.3}, "encoding": {"x": {"datum": -0.362, "type": "quantitative", "axis": null}, "x2": {"datum": 2.755}, "y": {"datum": 0.225, "type": "quantitative", "axis": null}, "y2": {"datum": -2.834}}},
                {"data": {"values": [{}]}, "mark": {"type": "rule", "color": "#222222", "strokeWidth": 1.1}, "encoding": {"x": {"datum": 1.351, "type": "quantitative", "axis": null}, "y": {"datum": -1.121, "type": "quantitative", "axis": null}, "y2": {"datum": -1.621}}},
                {"data": {"values": [{}]}, "mark": {"type": "rule", "color": "#222222", "strokeWidth": 1.1}, "encoding": {"x": {"datum": 1.351, "type": "quantitative", "axis": null}, "x2": {"datum": 1.851}, "y": {"datum": -1.621, "type": "quantitative", "axis": null}}},
                {"data": {"values": [{}]}, "mark": {"type": "text", "text": "0.5 nA", "angle": 270, "align": "center", "baseline": "middle", "fontSize": 9}, "encoding": {"x": {"datum": 1.145, "type": "quantitative", "axis": null}, "y": {"datum": -1.304, "type": "quantitative", "axis": null}}},
                {"data": {"values": [{}]}, "mark": {"type": "text", "text": "0.5 ms", "align": "center", "baseline": "middle", "fontSize": 9.5}, "encoding": {"x": {"datum": 1.636, "type": "quantitative", "axis": null}, "y": {"datum": -1.937, "type": "quantitative", "axis": null}}}
              ]
            }
          ]
        },
        {
          "width": 330, "height": 260,
          "resolve": {"scale": {"x": "independent", "y": "independent"}},
          "layer": [
            {
              "layer": [
                {"data": {"name": "cProt"}, "mark": {"type": "line", "color": "#222222", "strokeWidth": 1.3}, "encoding": {"x": {"field": "t", "type": "quantitative", "scale": {"domain": [-15.636, 44.364], "nice": false, "zero": false}, "axis": null}, "y": {"field": "v", "type": "quantitative", "scale": {"domain": [-553.5, 31.5], "nice": false, "zero": false}, "axis": null}, "detail": {"field": "seg"}, "order": {"field": "k"}}},
                {"data": {"name": "cCond"}, "mark": {"type": "line", "strokeWidth": 1.3}, "encoding": {"x": {"field": "t", "type": "quantitative", "scale": {"domain": [-15.636, 44.364], "nice": false, "zero": false}, "axis": null}, "y": {"field": "v", "type": "quantitative", "scale": {"domain": [-553.5, 31.5], "nice": false, "zero": false}, "axis": null}, "color": {"field": "step", "type": "nominal", "scale": {"domain": [0, -15, -30, -45, -60, -75, -90], "range": ["#7E3F98", "#111111", "#111111", "#ED1C24", "#111111", "#111111", "#1FA55A"]}, "legend": null}}},
                {"data": {"values": [{}]}, "mark": {"type": "text", "text": "C.", "align": "left", "baseline": "middle", "fontSize": 15}, "encoding": {"x": {"datum": -12.6, "type": "quantitative", "axis": null}, "y": {"datum": -20.9, "type": "quantitative", "axis": null}}},
                {"data": {"values": [{}]}, "mark": {"type": "text", "text": "-60 mV", "align": "right", "baseline": "middle", "fontSize": 13.5}, "encoding": {"x": {"datum": -2.31, "type": "quantitative", "axis": null}, "y": {"datum": -65.9, "type": "quantitative", "axis": null}}},
                {"data": {"values": [{}]}, "mark": {"type": "text", "text": "0 mV", "align": "center", "baseline": "middle", "fontSize": 13, "color": "#7E3F98"}, "encoding": {"x": {"datum": 12.73, "type": "quantitative", "axis": null}, "y": {"datum": 6.75, "type": "quantitative", "axis": null}}},
                {"data": {"values": [{}]}, "mark": {"type": "text", "text": "-45 mV", "align": "left", "baseline": "middle", "fontSize": 13.5, "color": "#ED1C24"}, "encoding": {"x": {"datum": 8.909, "type": "quantitative", "axis": null}, "y": {"datum": -47.3, "type": "quantitative", "axis": null}}},
                {"data": {"values": [{}]}, "mark": {"type": "text", "text": "-90 mV", "align": "left", "baseline": "middle", "fontSize": 13.5, "color": "#1FA55A"}, "encoding": {"x": {"datum": 9.218, "type": "quantitative", "axis": null}, "y": {"datum": -96.1, "type": "quantitative", "axis": null}}}
              ]
            },
            {
              "layer": [
                {"data": {"name": "cLeft"}, "mark": {"type": "line", "strokeWidth": 1.2}, "encoding": {"x": {"field": "t", "type": "quantitative", "scale": {"domain": [-15.636, 44.364], "nice": false, "zero": false}, "axis": null}, "y": {"field": "i", "type": "quantitative", "scale": {"domain": [-14.45, 8.558], "nice": false, "zero": false}, "axis": null}, "detail": {"field": "seg"}, "color": {"field": "step", "type": "nominal", "scale": {"domain": [0, -15, -30, -45, -60, -75, -90], "range": ["#7E3F98", "#111111", "#111111", "#ED1C24", "#111111", "#111111", "#1FA55A"]}, "legend": null}}},
                {"data": {"values": [{}]}, "mark": {"type": "rule", "color": "#222222", "strokeWidth": 1.3}, "encoding": {"x": {"datum": -1.4, "type": "quantitative", "axis": null}, "y": {"datum": -7.611, "type": "quantitative", "axis": null}, "y2": {"datum": -8.611}}},
                {"data": {"values": [{}]}, "mark": {"type": "rule", "color": "#222222", "strokeWidth": 1.3}, "encoding": {"x": {"datum": -1.4, "type": "quantitative", "axis": null}, "x2": {"datum": 2.6}, "y": {"datum": -8.611, "type": "quantitative", "axis": null}}},
                {"data": {"values": [{}]}, "mark": {"type": "text", "text": "1 nA", "angle": 270, "align": "center", "baseline": "middle", "fontSize": 13}, "encoding": {"x": {"datum": -2.909, "type": "quantitative", "axis": null}, "y": {"datum": -7.885, "type": "quantitative", "axis": null}}},
                {"data": {"values": [{}]}, "mark": {"type": "text", "text": "4 ms", "align": "center", "baseline": "middle", "fontSize": 13}, "encoding": {"x": {"datum": 1.182, "type": "quantitative", "axis": null}, "y": {"datum": -9.584, "type": "quantitative", "axis": null}}}
              ]
            },
            {
              "layer": [
                {"data": {"name": "cRight"}, "mark": {"type": "line", "strokeWidth": 1.3, "interpolate": "monotone"}, "encoding": {"x": {"field": "t", "type": "quantitative", "scale": {"domain": [-1.604, 2.521], "nice": false, "zero": false}, "axis": null}, "y": {"field": "i", "type": "quantitative", "scale": {"domain": [-7.25, 5.75], "nice": false, "zero": false}, "axis": null}, "color": {"field": "step", "type": "nominal", "scale": {"domain": [0, -15, -30, -45, -60, -75, -90], "range": ["#7E3F98", "#111111", "#111111", "#ED1C24", "#111111", "#111111", "#1FA55A"]}, "legend": null}}},
                {"data": {"values": [{}]}, "mark": {"type": "rule", "color": "#222222", "strokeWidth": 1.3}, "encoding": {"x": {"datum": 0.8625, "type": "quantitative", "axis": null}, "y": {"datum": -2.085, "type": "quantitative", "axis": null}, "y2": {"datum": -3.085}}},
                {"data": {"values": [{}]}, "mark": {"type": "rule", "color": "#222222", "strokeWidth": 1.3}, "encoding": {"x": {"datum": 0.8625, "type": "quantitative", "axis": null}, "x2": {"datum": 1.3625}, "y": {"datum": -3.085, "type": "quantitative", "axis": null}}},
                {"data": {"values": [{}]}, "mark": {"type": "text", "text": "1 nA", "angle": 270, "align": "center", "baseline": "middle", "fontSize": 13}, "encoding": {"x": {"datum": 0.719, "type": "quantitative", "axis": null}, "y": {"datum": -2.415, "type": "quantitative", "axis": null}}},
                {"data": {"values": [{}]}, "mark": {"type": "text", "text": "0.5 ms", "align": "center", "baseline": "middle", "fontSize": 13}, "encoding": {"x": {"datum": 1.146, "type": "quantitative", "axis": null}, "y": {"datum": -3.65, "type": "quantitative", "axis": null}}}
              ]
            }
          ]
        },
        {
          "width": 330, "height": 190,
          "resolve": {"scale": {"x": "independent", "y": "independent"}},
          "layer": [
            {
              "layer": [
                {"data": {"name": "e1Prot"}, "mark": {"type": "line", "color": "#222222", "strokeWidth": 1.3}, "encoding": {"x": {"field": "t", "type": "quantitative", "scale": {"domain": [-6.605, 36.988], "nice": false, "zero": false}, "axis": null}, "y": {"field": "v", "type": "quantitative", "scale": {"domain": [-80, -40, 30], "range": [55, 25, 11], "nice": false, "zero": false}, "axis": null}, "order": {"field": "k"}}},
                {"data": {"values": [{}]}, "mark": {"type": "text", "text": "E1.", "align": "left", "baseline": "middle", "fontSize": 15}, "encoding": {"x": {"datum": -3.738, "type": "quantitative", "axis": null}, "y": {"datum": 135, "type": "quantitative", "axis": null}}},
                {"data": {"values": [{}]}, "mark": {"type": "text", "text": "30 mV", "align": "center", "baseline": "alphabetic", "fontSize": 12.5}, "encoding": {"x": {"datum": 1.98, "type": "quantitative", "axis": null}, "y": {"datum": 50, "type": "quantitative", "axis": null}}},
                {"data": {"values": [{}]}, "mark": {"type": "text", "text": "-40 mV", "align": "center", "baseline": "alphabetic", "fontSize": 13.5}, "encoding": {"x": {"datum": 14.531, "type": "quantitative", "axis": null}, "y": {"datum": -42, "type": "quantitative", "axis": null}}}
              ]
            },
            {
              "layer": [
                {"data": {"name": "e1"}, "mark": {"type": "line", "strokeWidth": 1.2, "interpolate": "monotone"}, "encoding": {"x": {"field": "t", "type": "quantitative", "scale": {"domain": [-6.605, 36.988], "nice": false, "zero": false}, "axis": null}, "y": {"field": "i", "type": "quantitative", "scale": {"domain": [-4.506, 3.004], "nice": false, "zero": false}, "axis": null}, "color": {"field": "m", "type": "nominal", "scale": {"domain": ["0 min.", "2 min.", "4 min.", "6 min.", "8 min."], "range": ["#000000", "#1FA55A", "#2A7FC9", "#ED1C24", "#7E3F98"]}, "legend": null}}},
                {"data": {"values": [{}]}, "mark": {"type": "rule", "color": "#222222", "strokeWidth": 1.3}, "encoding": {"x": {"datum": 7.398, "type": "quantitative", "axis": null}, "y": {"datum": -1.7, "type": "quantitative", "axis": null}, "y2": {"datum": -2.7}}},
                {"data": {"values": [{}]}, "mark": {"type": "rule", "color": "#222222", "strokeWidth": 1.3}, "encoding": {"x": {"datum": 7.398, "type": "quantitative", "axis": null}, "x2": {"datum": 17.398}, "y": {"datum": -2.7, "type": "quantitative", "axis": null}}},
                {"data": {"values": [{}]}, "mark": {"type": "text", "text": "1 nA", "angle": 270, "align": "center", "baseline": "middle", "fontSize": 13}, "encoding": {"x": {"datum": 5.945, "type": "quantitative", "axis": null}, "y": {"datum": -2.2, "type": "quantitative", "axis": null}}},
                {"data": {"values": [{}]}, "mark": {"type": "text", "text": "10 ms", "align": "center", "baseline": "middle", "fontSize": 13}, "encoding": {"x": {"datum": 13.1, "type": "quantitative", "axis": null}, "y": {"datum": -3.19, "type": "quantitative", "axis": null}}},
                {"data": {"values": [{}]}, "mark": {"type": "text", "text": "TTX perfusion", "align": "left", "baseline": "alphabetic", "fontSize": 13.5}, "encoding": {"x": {"datum": 22.233, "type": "quantitative", "axis": null}, "y": {"datum": -1.166, "type": "quantitative", "axis": null}}},
                {"data": {"values": [{}]}, "mark": {"type": "rule", "color": "#000000", "strokeWidth": 1}, "encoding": {"x": {"datum": 22.233, "type": "quantitative", "axis": null}, "x2": {"datum": 33.24}, "y": {"datum": -1.277, "type": "quantitative", "axis": null}}},
                {"data": {"values": [{}]}, "mark": {"type": "rule", "color": "#000000", "strokeWidth": 1.5}, "encoding": {"x": {"datum": 21.664, "type": "quantitative", "axis": null}, "x2": {"datum": 25.984}, "y": {"datum": -1.66, "type": "quantitative", "axis": null}}},
                {"data": {"values": [{}]}, "mark": {"type": "rule", "color": "#1FA55A", "strokeWidth": 1.5}, "encoding": {"x": {"datum": 21.664, "type": "quantitative", "axis": null}, "x2": {"datum": 25.984}, "y": {"datum": -2.213, "type": "quantitative", "axis": null}}},
                {"data": {"values": [{}]}, "mark": {"type": "rule", "color": "#2A7FC9", "strokeWidth": 1.5}, "encoding": {"x": {"datum": 21.664, "type": "quantitative", "axis": null}, "x2": {"datum": 25.984}, "y": {"datum": -2.767, "type": "quantitative", "axis": null}}},
                {"data": {"values": [{}]}, "mark": {"type": "rule", "color": "#ED1C24", "strokeWidth": 1.5}, "encoding": {"x": {"datum": 21.664, "type": "quantitative", "axis": null}, "x2": {"datum": 25.984}, "y": {"datum": -3.32, "type": "quantitative", "axis": null}}},
                {"data": {"values": [{}]}, "mark": {"type": "rule", "color": "#7E3F98", "strokeWidth": 1.5}, "encoding": {"x": {"datum": 21.664, "type": "quantitative", "axis": null}, "x2": {"datum": 25.984}, "y": {"datum": -3.874, "type": "quantitative", "axis": null}}},
                {"data": {"values": [{}]}, "mark": {"type": "text", "text": "0 min.", "align": "left", "baseline": "middle", "fontSize": 11.5}, "encoding": {"x": {"datum": 26.328, "type": "quantitative", "axis": null}, "y": {"datum": -1.66, "type": "quantitative", "axis": null}}},
                {"data": {"values": [{}]}, "mark": {"type": "text", "text": "2 min.", "align": "left", "baseline": "middle", "fontSize": 11.5}, "encoding": {"x": {"datum": 26.328, "type": "quantitative", "axis": null}, "y": {"datum": -2.213, "type": "quantitative", "axis": null}}},
                {"data": {"values": [{}]}, "mark": {"type": "text", "text": "4 min.", "align": "left", "baseline": "middle", "fontSize": 11.5}, "encoding": {"x": {"datum": 26.328, "type": "quantitative", "axis": null}, "y": {"datum": -2.767, "type": "quantitative", "axis": null}}},
                {"data": {"values": [{}]}, "mark": {"type": "text", "text": "6 min.", "align": "left", "baseline": "middle", "fontSize": 11.5}, "encoding": {"x": {"datum": 26.328, "type": "quantitative", "axis": null}, "y": {"datum": -3.32, "type": "quantitative", "axis": null}}},
                {"data": {"values": [{}]}, "mark": {"type": "text", "text": "8 min.", "align": "left", "baseline": "middle", "fontSize": 11.5}, "encoding": {"x": {"datum": 26.328, "type": "quantitative", "axis": null}, "y": {"datum": -3.874, "type": "quantitative", "axis": null}}}
              ]
            }
          ]
        }
      ]
    },
    {
      "spacing": 0,
      "bounds": "flush",
      "resolve": {"scale": {"color": "independent", "shape": "independent"}},
      "vconcat": [
        {"width": 224, "height": 22, "data": {"values": []}, "mark": "point"},
        {
          "width": 224, "height": 152,
          "title": {"text": "B.", "dx": -51, "offset": 0},
          "layer": [
            {"data": {"name": "bFit"}, "mark": {"type": "line", "strokeWidth": 1.8, "interpolate": "monotone"}, "encoding": {
              "x": {"field": "v", "type": "quantitative", "scale": {"domain": [-73.6, 0.6], "nice": false, "zero": false}, "axis": {"values": [-60, -40, -20, 0], "title": "Test potential (mV)", "titleFontSize": 13.5, "titlePadding": 0, "titleX": 133, "tickSize": 4, "labelPadding": 3, "labelOverlap": false, "labelFlush": false}},
              "y": {"field": "g", "type": "quantitative", "scale": {"domain": [0, 1.0704], "nice": false, "zero": false}, "axis": {"values": [0, 0.2, 0.4, 0.6, 0.8, 1], "format": ".1f", "title": null, "tickSize": 3, "labelPadding": 1, "labelOverlap": false, "labelFlush": false}},
              "color": {"field": "geno", "type": "nominal", "scale": {"domain": ["WT", "Scn4b-/-"], "range": ["#000000", "#ED1C24"]}, "legend": null}}},
            {"data": {"name": "bPts"}, "mark": {"type": "errorbar", "ticks": {"size": 6}, "thickness": 1.4}, "encoding": {
              "x": {"field": "v", "type": "quantitative", "scale": {"domain": [-73.6, 0.6], "nice": false, "zero": false}, "axis": {"values": [-60, -40, -20, 0], "title": "Test potential (mV)", "titleFontSize": 13.5, "titlePadding": 0, "titleX": 133, "tickSize": 4, "labelPadding": 3, "labelOverlap": false, "labelFlush": false}},
              "y": {"field": "g", "type": "quantitative", "scale": {"domain": [0, 1.0704], "nice": false, "zero": false}, "axis": {"values": [0, 0.2, 0.4, 0.6, 0.8, 1], "format": ".1f", "title": null, "tickSize": 3, "labelPadding": 1, "labelOverlap": false, "labelFlush": false}},
              "yError": {"field": "e"},
              "color": {"field": "geno", "type": "nominal", "scale": {"domain": ["WT", "Scn4b-/-"], "range": ["#000000", "#ED1C24"]}, "legend": null}}},
            {"data": {"name": "bPts"}, "mark": {"type": "point", "filled": true, "size": 58, "opacity": 1}, "encoding": {
              "x": {"field": "v", "type": "quantitative", "scale": {"domain": [-73.6, 0.6], "nice": false, "zero": false}, "axis": {"values": [-60, -40, -20, 0], "title": "Test potential (mV)", "titleFontSize": 13.5, "titlePadding": 0, "titleX": 133, "tickSize": 4, "labelPadding": 3, "labelOverlap": false, "labelFlush": false}},
              "y": {"field": "g", "type": "quantitative", "scale": {"domain": [0, 1.0704], "nice": false, "zero": false}, "axis": {"values": [0, 0.2, 0.4, 0.6, 0.8, 1], "format": ".1f", "title": null, "tickSize": 3, "labelPadding": 1, "labelOverlap": false, "labelFlush": false}},
              "color": {"field": "geno", "type": "nominal", "scale": {"domain": ["WT", "Scn4b-/-"], "range": ["#000000", "#ED1C24"]}, "legend": null},
              "shape": {"field": "geno", "type": "nominal", "scale": {"domain": ["WT", "Scn4b-/-"], "range": ["circle", "square"]}, "legend": null}}},
            {"data": {"values": [{}]}, "mark": {"type": "rule", "color": "#000000", "strokeWidth": 1.8}, "encoding": {"x": {"datum": -68.96, "type": "quantitative", "axis": {"values": [-60, -40, -20, 0], "title": "Test potential (mV)", "titleFontSize": 13.5, "titlePadding": 0, "titleX": 133, "tickSize": 4, "labelPadding": 3, "labelOverlap": false, "labelFlush": false}}, "x2": {"datum": -64.65}, "y": {"datum": 0.92, "type": "quantitative", "axis": {"values": [0, 0.2, 0.4, 0.6, 0.8, 1], "format": ".1f", "title": null, "tickSize": 3, "labelPadding": 1, "labelOverlap": false, "labelFlush": false}}}},
            {"data": {"values": [{}]}, "mark": {"type": "point", "shape": "circle", "filled": true, "size": 58, "opacity": 1, "color": "#000000"}, "encoding": {"x": {"datum": -66.8, "type": "quantitative", "axis": {"values": [-60, -40, -20, 0], "title": "Test potential (mV)", "titleFontSize": 13.5, "titlePadding": 0, "titleX": 133, "tickSize": 4, "labelPadding": 3, "labelOverlap": false, "labelFlush": false}}, "y": {"datum": 0.92, "type": "quantitative", "axis": {"values": [0, 0.2, 0.4, 0.6, 0.8, 1], "format": ".1f", "title": null, "tickSize": 3, "labelPadding": 1, "labelOverlap": false, "labelFlush": false}}}},
            {"data": {"values": [{}]}, "mark": {"type": "text", "text": "WT", "align": "left", "baseline": "middle", "fontSize": 13}, "encoding": {"x": {"datum": -63.66, "type": "quantitative", "axis": {"values": [-60, -40, -20, 0], "title": "Test potential (mV)", "titleFontSize": 13.5, "titlePadding": 0, "titleX": 133, "tickSize": 4, "labelPadding": 3, "labelOverlap": false, "labelFlush": false}}, "y": {"datum": 0.92, "type": "quantitative", "axis": {"values": [0, 0.2, 0.4, 0.6, 0.8, 1], "format": ".1f", "title": null, "tickSize": 3, "labelPadding": 1, "labelOverlap": false, "labelFlush": false}}}},
            {"data": {"values": [{}]}, "mark": {"type": "rule", "color": "#ED1C24", "strokeWidth": 1.8}, "encoding": {"x": {"datum": -68.96, "type": "quantitative", "axis": {"values": [-60, -40, -20, 0], "title": "Test potential (mV)", "titleFontSize": 13.5, "titlePadding": 0, "titleX": 133, "tickSize": 4, "labelPadding": 3, "labelOverlap": false, "labelFlush": false}}, "x2": {"datum": -64.65}, "y": {"datum": 0.791, "type": "quantitative", "axis": {"values": [0, 0.2, 0.4, 0.6, 0.8, 1], "format": ".1f", "title": null, "tickSize": 3, "labelPadding": 1, "labelOverlap": false, "labelFlush": false}}}},
            {"data": {"values": [{}]}, "mark": {"type": "point", "shape": "square", "filled": true, "size": 58, "opacity": 1, "color": "#ED1C24"}, "encoding": {"x": {"datum": -66.8, "type": "quantitative", "axis": {"values": [-60, -40, -20, 0], "title": "Test potential (mV)", "titleFontSize": 13.5, "titlePadding": 0, "titleX": 133, "tickSize": 4, "labelPadding": 3, "labelOverlap": false, "labelFlush": false}}, "y": {"datum": 0.791, "type": "quantitative", "axis": {"values": [0, 0.2, 0.4, 0.6, 0.8, 1], "format": ".1f", "title": null, "tickSize": 3, "labelPadding": 1, "labelOverlap": false, "labelFlush": false}}}},
            {"data": {"values": [{}]}, "mark": {"type": "text", "text": "Scn4b", "fontStyle": "italic", "align": "left", "baseline": "middle", "fontSize": 13}, "encoding": {"x": {"datum": -63.66, "type": "quantitative", "axis": {"values": [-60, -40, -20, 0], "title": "Test potential (mV)", "titleFontSize": 13.5, "titlePadding": 0, "titleX": 133, "tickSize": 4, "labelPadding": 3, "labelOverlap": false, "labelFlush": false}}, "y": {"datum": 0.791, "type": "quantitative", "axis": {"values": [0, 0.2, 0.4, 0.6, 0.8, 1], "format": ".1f", "title": null, "tickSize": 3, "labelPadding": 1, "labelOverlap": false, "labelFlush": false}}}},
            {"data": {"values": [{}]}, "mark": {"type": "text", "text": "-/-", "align": "left", "baseline": "middle", "fontSize": 9}, "encoding": {"x": {"datum": -51.06, "type": "quantitative", "axis": {"values": [-60, -40, -20, 0], "title": "Test potential (mV)", "titleFontSize": 13.5, "titlePadding": 0, "titleX": 133, "tickSize": 4, "labelPadding": 3, "labelOverlap": false, "labelFlush": false}}, "y": {"datum": 0.826, "type": "quantitative", "axis": {"values": [0, 0.2, 0.4, 0.6, 0.8, 1], "format": ".1f", "title": null, "tickSize": 3, "labelPadding": 1, "labelOverlap": false, "labelFlush": false}}}},
            {"data": {"values": [{}]}, "mark": {"type": "text", "text": "G / G", "angle": 270, "align": "center", "baseline": "middle", "fontSize": 17}, "encoding": {"x": {"datum": -86.63, "type": "quantitative", "axis": {"values": [-60, -40, -20, 0], "title": "Test potential (mV)", "titleFontSize": 13.5, "titlePadding": 0, "titleX": 133, "tickSize": 4, "labelPadding": 3, "labelOverlap": false, "labelFlush": false}}, "y": {"datum": 0.44, "type": "quantitative", "axis": {"values": [0, 0.2, 0.4, 0.6, 0.8, 1], "format": ".1f", "title": null, "tickSize": 3, "labelPadding": 1, "labelOverlap": false, "labelFlush": false}}}},
            {"data": {"values": [{}]}, "mark": {"type": "text", "text": "Max", "angle": 270, "align": "center", "baseline": "middle", "fontSize": 9.5}, "encoding": {"x": {"datum": -84.21, "type": "quantitative", "axis": {"values": [-60, -40, -20, 0], "title": "Test potential (mV)", "titleFontSize": 13.5, "titlePadding": 0, "titleX": 133, "tickSize": 4, "labelPadding": 3, "labelOverlap": false, "labelFlush": false}}, "y": {"datum": 0.674, "type": "quantitative", "axis": {"values": [0, 0.2, 0.4, 0.6, 0.8, 1], "format": ".1f", "title": null, "tickSize": 3, "labelPadding": 1, "labelOverlap": false, "labelFlush": false}}}}
          ]
        },
        {"width": 224, "height": 64, "data": {"values": []}, "mark": "point"},
        {
          "width": 239, "height": 152,
          "title": {"text": "D.", "dx": -48, "offset": 11},
          "layer": [
            {"data": {"name": "dFit"}, "mark": {"type": "line", "strokeWidth": 1.8, "interpolate": "monotone"}, "encoding": {
              "x": {"field": "v", "type": "quantitative", "scale": {"domain": [-118.96, -8.44], "nice": false, "zero": false}, "axis": {"values": [-100, -80, -60, -40, -20], "title": "Conditioning voltage (mV)", "titleFontSize": 17, "titlePadding": 1, "tickSize": 4, "labelPadding": 3, "labelOverlap": false, "labelFlush": false}},
              "y": {"field": "g", "type": "quantitative", "scale": {"domain": [0, 1.0556], "nice": false, "zero": false}, "axis": {"values": [0, 0.2, 0.4, 0.6, 0.8, 1], "format": ".1f", "title": null, "tickSize": 3, "labelPadding": 1, "labelOverlap": false, "labelFlush": false}},
              "color": {"field": "geno", "type": "nominal", "scale": {"domain": ["WT", "Scn4b-/-"], "range": ["#000000", "#ED1C24"]}, "legend": null}}},
            {"data": {"name": "dPts"}, "mark": {"type": "errorbar", "ticks": {"size": 6}, "thickness": 1.4}, "encoding": {
              "x": {"field": "v", "type": "quantitative", "scale": {"domain": [-118.96, -8.44], "nice": false, "zero": false}, "axis": {"values": [-100, -80, -60, -40, -20], "title": "Conditioning voltage (mV)", "titleFontSize": 17, "titlePadding": 1, "tickSize": 4, "labelPadding": 3, "labelOverlap": false, "labelFlush": false}},
              "y": {"field": "g", "type": "quantitative", "scale": {"domain": [0, 1.0556], "nice": false, "zero": false}, "axis": {"values": [0, 0.2, 0.4, 0.6, 0.8, 1], "format": ".1f", "title": null, "tickSize": 3, "labelPadding": 1, "labelOverlap": false, "labelFlush": false}},
              "yError": {"field": "e"},
              "color": {"field": "geno", "type": "nominal", "scale": {"domain": ["WT", "Scn4b-/-"], "range": ["#000000", "#ED1C24"]}, "legend": null}}},
            {"data": {"name": "dPts"}, "mark": {"type": "point", "filled": true, "size": 58, "opacity": 1}, "encoding": {
              "x": {"field": "v", "type": "quantitative", "scale": {"domain": [-118.96, -8.44], "nice": false, "zero": false}, "axis": {"values": [-100, -80, -60, -40, -20], "title": "Conditioning voltage (mV)", "titleFontSize": 17, "titlePadding": 1, "tickSize": 4, "labelPadding": 3, "labelOverlap": false, "labelFlush": false}},
              "y": {"field": "g", "type": "quantitative", "scale": {"domain": [0, 1.0556], "nice": false, "zero": false}, "axis": {"values": [0, 0.2, 0.4, 0.6, 0.8, 1], "format": ".1f", "title": null, "tickSize": 3, "labelPadding": 1, "labelOverlap": false, "labelFlush": false}},
              "color": {"field": "geno", "type": "nominal", "scale": {"domain": ["WT", "Scn4b-/-"], "range": ["#000000", "#ED1C24"]}, "legend": null},
              "shape": {"field": "geno", "type": "nominal", "scale": {"domain": ["WT", "Scn4b-/-"], "range": ["circle", "square"]}, "legend": null}}},
            {"data": {"values": [{}]}, "mark": {"type": "rule", "color": "#000000", "strokeWidth": 1.8}, "encoding": {"x": {"datum": -61.02, "type": "quantitative", "axis": {"values": [-100, -80, -60, -40, -20], "title": "Conditioning voltage (mV)", "titleFontSize": 17, "titlePadding": 1, "tickSize": 4, "labelPadding": 3, "labelOverlap": false, "labelFlush": false}}, "x2": {"datum": -56.39}, "y": {"datum": 0.915, "type": "quantitative", "axis": {"values": [0, 0.2, 0.4, 0.6, 0.8, 1], "format": ".1f", "title": null, "tickSize": 3, "labelPadding": 1, "labelOverlap": false, "labelFlush": false}}}},
            {"data": {"values": [{}]}, "mark": {"type": "point", "shape": "circle", "filled": true, "size": 58, "opacity": 1, "color": "#000000"}, "encoding": {"x": {"datum": -58.7, "type": "quantitative", "axis": {"values": [-100, -80, -60, -40, -20], "title": "Conditioning voltage (mV)", "titleFontSize": 17, "titlePadding": 1, "tickSize": 4, "labelPadding": 3, "labelOverlap": false, "labelFlush": false}}, "y": {"datum": 0.915, "type": "quantitative", "axis": {"values": [0, 0.2, 0.4, 0.6, 0.8, 1], "format": ".1f", "title": null, "tickSize": 3, "labelPadding": 1, "labelOverlap": false, "labelFlush": false}}}},
            {"data": {"values": [{}]}, "mark": {"type": "text", "text": "WT", "align": "left", "baseline": "middle", "fontSize": 13}, "encoding": {"x": {"datum": -54.08, "type": "quantitative", "axis": {"values": [-100, -80, -60, -40, -20], "title": "Conditioning voltage (mV)", "titleFontSize": 17, "titlePadding": 1, "tickSize": 4, "labelPadding": 3, "labelOverlap": false, "labelFlush": false}}, "y": {"datum": 0.915, "type": "quantitative", "axis": {"values": [0, 0.2, 0.4, 0.6, 0.8, 1], "format": ".1f", "title": null, "tickSize": 3, "labelPadding": 1, "labelOverlap": false, "labelFlush": false}}}},
            {"data": {"values": [{}]}, "mark": {"type": "rule", "color": "#ED1C24", "strokeWidth": 1.8}, "encoding": {"x": {"datum": -61.02, "type": "quantitative", "axis": {"values": [-100, -80, -60, -40, -20], "title": "Conditioning voltage (mV)", "titleFontSize": 17, "titlePadding": 1, "tickSize": 4, "labelPadding": 3, "labelOverlap": false, "labelFlush": false}}, "x2": {"datum": -56.39}, "y": {"datum": 0.799, "type": "quantitative", "axis": {"values": [0, 0.2, 0.4, 0.6, 0.8, 1], "format": ".1f", "title": null, "tickSize": 3, "labelPadding": 1, "labelOverlap": false, "labelFlush": false}}}},
            {"data": {"values": [{}]}, "mark": {"type": "point", "shape": "square", "filled": true, "size": 58, "opacity": 1, "color": "#ED1C24"}, "encoding": {"x": {"datum": -58.7, "type": "quantitative", "axis": {"values": [-100, -80, -60, -40, -20], "title": "Conditioning voltage (mV)", "titleFontSize": 17, "titlePadding": 1, "tickSize": 4, "labelPadding": 3, "labelOverlap": false, "labelFlush": false}}, "y": {"datum": 0.799, "type": "quantitative", "axis": {"values": [0, 0.2, 0.4, 0.6, 0.8, 1], "format": ".1f", "title": null, "tickSize": 3, "labelPadding": 1, "labelOverlap": false, "labelFlush": false}}}},
            {"data": {"values": [{}]}, "mark": {"type": "text", "text": "Scn4b", "fontStyle": "italic", "align": "left", "baseline": "middle", "fontSize": 13}, "encoding": {"x": {"datum": -54.08, "type": "quantitative", "axis": {"values": [-100, -80, -60, -40, -20], "title": "Conditioning voltage (mV)", "titleFontSize": 17, "titlePadding": 1, "tickSize": 4, "labelPadding": 3, "labelOverlap": false, "labelFlush": false}}, "y": {"datum": 0.799, "type": "quantitative", "axis": {"values": [0, 0.2, 0.4, 0.6, 0.8, 1], "format": ".1f", "title": null, "tickSize": 3, "labelPadding": 1, "labelOverlap": false, "labelFlush": false}}}},
            {"data": {"values": [{}]}, "mark": {"type": "text", "text": "-/-", "align": "left", "baseline": "middle", "fontSize": 9}, "encoding": {"x": {"datum": -36.65, "type": "quantitative", "axis": {"values": [-100, -80, -60, -40, -20], "title": "Conditioning voltage (mV)", "titleFontSize": 17, "titlePadding": 1, "tickSize": 4, "labelPadding": 3, "labelOverlap": false, "labelFlush": false}}, "y": {"datum": 0.824, "type": "quantitative", "axis": {"values": [0, 0.2, 0.4, 0.6, 0.8, 1], "format": ".1f", "title": null, "tickSize": 3, "labelPadding": 1, "labelOverlap": false, "labelFlush": false}}}},
            {"data": {"values": [{}]}, "mark": {"type": "text", "text": "I / I", "angle": 270, "align": "center", "baseline": "middle", "fontSize": 17}, "encoding": {"x": {"datum": -133.43, "type": "quantitative", "axis": {"values": [-100, -80, -60, -40, -20], "title": "Conditioning voltage (mV)", "titleFontSize": 17, "titlePadding": 1, "tickSize": 4, "labelPadding": 3, "labelOverlap": false, "labelFlush": false}}, "y": {"datum": 0.396, "type": "quantitative", "axis": {"values": [0, 0.2, 0.4, 0.6, 0.8, 1], "format": ".1f", "title": null, "tickSize": 3, "labelPadding": 1, "labelOverlap": false, "labelFlush": false}}}},
            {"data": {"values": [{}]}, "mark": {"type": "text", "text": "Max", "angle": 270, "align": "center", "baseline": "middle", "fontSize": 9.5}, "encoding": {"x": {"datum": -130.52, "type": "quantitative", "axis": {"values": [-100, -80, -60, -40, -20], "title": "Conditioning voltage (mV)", "titleFontSize": 17, "titlePadding": 1, "tickSize": 4, "labelPadding": 3, "labelOverlap": false, "labelFlush": false}}, "y": {"datum": 0.625, "type": "quantitative", "axis": {"values": [0, 0.2, 0.4, 0.6, 0.8, 1], "format": ".1f", "title": null, "tickSize": 3, "labelPadding": 1, "labelOverlap": false, "labelFlush": false}}}}
          ]
        },
        {"width": 224, "height": 65, "data": {"values": []}, "mark": "point"},
        {
          "width": 248, "height": 190,
          "resolve": {"scale": {"x": "independent", "y": "independent"}},
          "layer": [
            {
              "layer": [
                {"data": {"name": "e2Prot"}, "mark": {"type": "line", "color": "#222222", "strokeWidth": 1.3}, "encoding": {"x": {"field": "t", "type": "quantitative", "scale": {"domain": [4.078, 37.456], "nice": false, "zero": false}, "axis": null}, "y": {"field": "v", "type": "quantitative", "scale": {"domain": [-80, -40, 30], "range": [51.7, 21.7, 7.3], "nice": false, "zero": false}, "axis": null}, "order": {"field": "k"}}},
                {"data": {"values": [{}]}, "mark": {"type": "text", "text": "E2.", "align": "left", "baseline": "middle", "fontSize": 15}, "encoding": {"x": {"datum": -4.401, "type": "quantitative", "axis": null}, "y": {"datum": 105.8, "type": "quantitative", "axis": null}}},
                {"data": {"values": [{}]}, "mark": {"type": "text", "text": "30 mV", "align": "center", "baseline": "alphabetic", "fontSize": 12.5}, "encoding": {"x": {"datum": 1.992, "type": "quantitative", "axis": null}, "y": {"datum": 46, "type": "quantitative", "axis": null}}},
                {"data": {"values": [{}]}, "mark": {"type": "text", "text": "-40 mV", "align": "center", "baseline": "alphabetic", "fontSize": 13.5}, "encoding": {"x": {"datum": 14.44, "type": "quantitative", "axis": null}, "y": {"datum": -31.7, "type": "quantitative", "axis": null}}}
              ]
            },
            {
              "layer": [
                {"data": {"name": "e2"}, "mark": {"type": "line", "strokeWidth": 1.1}, "encoding": {"x": {"field": "t", "type": "quantitative", "scale": {"domain": [4.078, 37.456], "nice": false, "zero": false}, "axis": null}, "y": {"field": "i", "type": "quantitative", "scale": {"domain": [-2.72, 1.4376], "nice": false, "zero": false}, "axis": null}, "color": {"field": "m", "type": "nominal", "scale": {"domain": ["0 min.", "2 min.", "4 min.", "6 min.", "8 min."], "range": ["#000000", "#1FA55A", "#2A7FC9", "#ED1C24", "#7E3F98"]}, "legend": null}}},
                {"data": {"values": [{}]}, "mark": {"type": "text", "text": "TTX Sensitive Current", "align": "center", "baseline": "middle", "fontSize": 15.5}, "encoding": {"x": {"datum": 14.98, "type": "quantitative", "axis": null}, "y": {"datum": 0.3217, "type": "quantitative", "axis": null}}},
                {"data": {"values": [{}]}, "mark": {"type": "point", "shape": "triangle-right", "filled": true, "size": 110, "opacity": 1, "color": "#000000"}, "encoding": {"x": {"datum": 5.693, "type": "quantitative", "axis": null}, "y": {"datum": -1.882, "type": "quantitative", "axis": null}}},
                {"data": {"values": [{}]}, "mark": {"type": "rule", "color": "#222222", "strokeWidth": 1.3}, "encoding": {"x": {"datum": 14.132, "type": "quantitative", "axis": null}, "y": {"datum": -1.116, "type": "quantitative", "axis": null}, "y2": {"datum": -2.116}}},
                {"data": {"values": [{}]}, "mark": {"type": "rule", "color": "#222222", "strokeWidth": 1.3}, "encoding": {"x": {"datum": 14.132, "type": "quantitative", "axis": null}, "x2": {"datum": 24.132}, "y": {"datum": -2.116, "type": "quantitative", "axis": null}}},
                {"data": {"values": [{}]}, "mark": {"type": "text", "text": "1 nA", "angle": 270, "align": "center", "baseline": "middle", "fontSize": 13}, "encoding": {"x": {"datum": 12.113, "type": "quantitative", "axis": null}, "y": {"datum": -1.772, "type": "quantitative", "axis": null}}},
                {"data": {"values": [{}]}, "mark": {"type": "text", "text": "10 ms", "align": "center", "baseline": "middle", "fontSize": 13}, "encoding": {"x": {"datum": 19.825, "type": "quantitative", "axis": null}, "y": {"datum": -2.392, "type": "quantitative", "axis": null}}}
              ]
            }
          ]
        }
      ]
    }
  ]
}
